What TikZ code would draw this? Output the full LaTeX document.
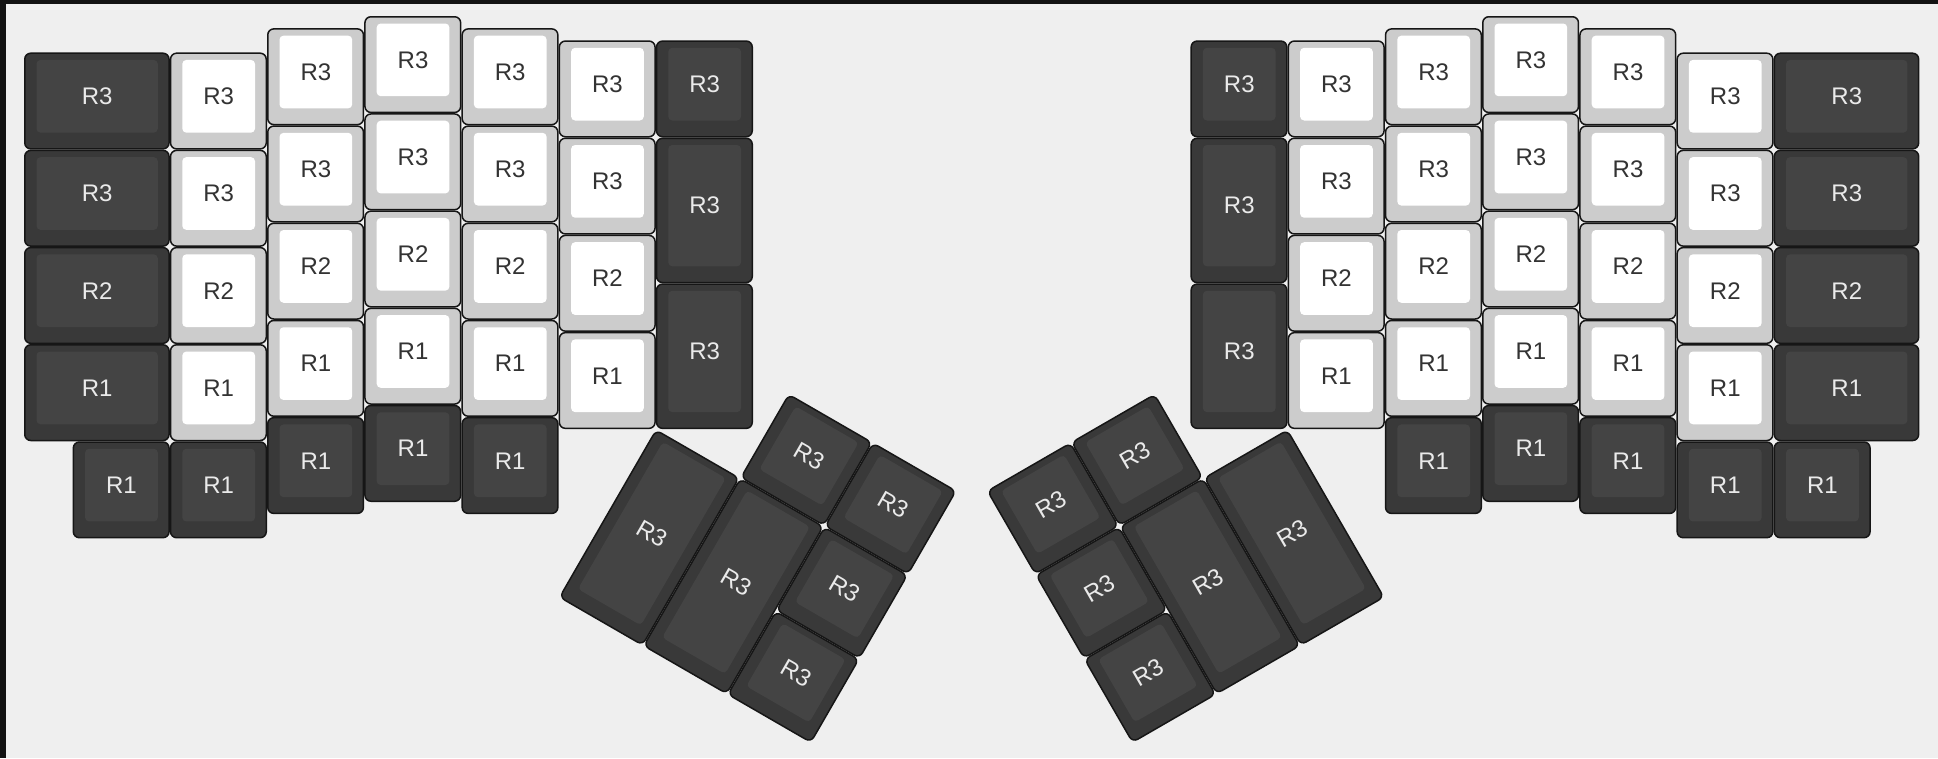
\documentclass[tikz,border=0pt]{standalone}
\usepackage{fontspec}
\setmainfont{Liberation Sans}
\definecolor{bgc}{HTML}{EFEFEF}
\definecolor{framec}{HTML}{121212}
\definecolor{dout}{HTML}{393939}
\definecolor{din}{HTML}{444444}
\definecolor{lout}{HTML}{CCCCCC}
\definecolor{lin}{HTML}{FFFFFF}
\definecolor{edgec}{HTML}{161616}
\definecolor{dtext}{HTML}{EAEAEA}
\definecolor{ltext}{HTML}{333333}
\def\U{97.2}
\tikzset{
  dout/.style={fill=dout,draw=edgec,line width=1.5pt,rounded corners=6pt},
  lout/.style={fill=lout,draw=edgec,line width=1.5pt,rounded corners=6pt},
  din/.style={fill=din,rounded corners=4pt},
  lin/.style={fill=lin,rounded corners=4pt},
  dtxt/.style={text=dtext,inner sep=0pt,transform shape,font=\fontsize{24}{24}\selectfont},
  ltxt/.style={text=ltext,inner sep=0pt,transform shape,font=\fontsize{24}{24}\selectfont},
}
% #1 x, #2 y, #3 w, #4 h, #5 label, #6 d/l, #7 name
\newcommand\kk[7]{%
  \begin{scope}[shift={(#1,#2)}]
    \pgfmathsetmacro\kw{#3*\U}\pgfmathsetmacro\kh{#4*\U}
    \draw[#6out] (0.75pt,-0.75pt) rectangle (\kw pt-0.75pt,-\kh pt+0.75pt);
    \fill[#6in] (12.5pt,-7.5pt) rectangle (\kw pt-12pt,-\kh pt+17pt);
    \node[#6txt] (#7) at (\kw pt/2+0.25pt,-\kh pt/2+4.75pt) {#5};
  \end{scope}}
\begin{document}
\begin{tikzpicture}
\useasboundingbox (0pt,0pt) rectangle (1938pt,-758pt);
\fill[framec] (0pt,0pt) rectangle (1938pt,-758pt);
\fill[bgc] (6pt,-4pt) rectangle (1938pt,-758pt);
\begin{scope}[shift={(24pt,-16pt)},x=97.2pt,y=-97.2pt]
% ---- left half
\kk{0}{0.375}{1.5}{1}{R3}{d}{La0}
\kk{0}{1.375}{1.5}{1}{R3}{d}{La1}
\kk{0}{2.375}{1.5}{1}{R2}{d}{La2}
\kk{0}{3.375}{1.5}{1}{R1}{d}{La3}
\kk{0.5}{4.375}{1}{1}{R1}{d}{La4}
\kk{1.5}{0.375}{1}{1}{R3}{l}{Lb0}
\kk{1.5}{1.375}{1}{1}{R3}{l}{Lb1}
\kk{1.5}{2.375}{1}{1}{R2}{l}{Lb2}
\kk{1.5}{3.375}{1}{1}{R1}{l}{Lb3}
\kk{1.5}{4.375}{1}{1}{R1}{d}{Lb4}
\kk{2.5}{0.125}{1}{1}{R3}{l}{Lc0}
\kk{2.5}{1.125}{1}{1}{R3}{l}{Lc1}
\kk{2.5}{2.125}{1}{1}{R2}{l}{Lc2}
\kk{2.5}{3.125}{1}{1}{R1}{l}{Lc3}
\kk{2.5}{4.125}{1}{1}{R1}{d}{Lc4}
\kk{3.5}{0}{1}{1}{R3}{l}{Ld0}
\kk{3.5}{1}{1}{1}{R3}{l}{Ld1}
\kk{3.5}{2}{1}{1}{R2}{l}{Ld2}
\kk{3.5}{3}{1}{1}{R1}{l}{Ld3}
\kk{3.5}{4}{1}{1}{R1}{d}{Ld4}
\kk{4.5}{0.125}{1}{1}{R3}{l}{Le0}
\kk{4.5}{1.125}{1}{1}{R3}{l}{Le1}
\kk{4.5}{2.125}{1}{1}{R2}{l}{Le2}
\kk{4.5}{3.125}{1}{1}{R1}{l}{Le3}
\kk{4.5}{4.125}{1}{1}{R1}{d}{Le4}
\kk{5.5}{0.25}{1}{1}{R3}{l}{Lf0}
\kk{5.5}{1.25}{1}{1}{R3}{l}{Lf1}
\kk{5.5}{2.25}{1}{1}{R2}{l}{Lf2}
\kk{5.5}{3.25}{1}{1}{R1}{l}{Lf3}
\kk{6.5}{0.25}{1}{1}{R3}{d}{Lg0}
\kk{6.5}{1.25}{1}{1.5}{R3}{d}{Lg1}
\kk{6.5}{2.75}{1}{1.5}{R3}{d}{Lg2}
% ---- right half
\kk{12}{0.25}{1}{1}{R3}{d}{Rg0}
\kk{12}{1.25}{1}{1.5}{R3}{d}{Rg1}
\kk{12}{2.75}{1}{1.5}{R3}{d}{Rg2}
\kk{13}{0.25}{1}{1}{R3}{l}{Rf0}
\kk{13}{1.25}{1}{1}{R3}{l}{Rf1}
\kk{13}{2.25}{1}{1}{R2}{l}{Rf2}
\kk{13}{3.25}{1}{1}{R1}{l}{Rf3}
\kk{14}{0.125}{1}{1}{R3}{l}{Re0}
\kk{14}{1.125}{1}{1}{R3}{l}{Re1}
\kk{14}{2.125}{1}{1}{R2}{l}{Re2}
\kk{14}{3.125}{1}{1}{R1}{l}{Re3}
\kk{14}{4.125}{1}{1}{R1}{d}{Re4}
\kk{15}{0}{1}{1}{R3}{l}{Rd0}
\kk{15}{1}{1}{1}{R3}{l}{Rd1}
\kk{15}{2}{1}{1}{R2}{l}{Rd2}
\kk{15}{3}{1}{1}{R1}{l}{Rd3}
\kk{15}{4}{1}{1}{R1}{d}{Rd4}
\kk{16}{0.125}{1}{1}{R3}{l}{Rc0}
\kk{16}{1.125}{1}{1}{R3}{l}{Rc1}
\kk{16}{2.125}{1}{1}{R2}{l}{Rc2}
\kk{16}{3.125}{1}{1}{R1}{l}{Rc3}
\kk{16}{4.125}{1}{1}{R1}{d}{Rc4}
\kk{17}{0.375}{1}{1}{R3}{l}{Rb0}
\kk{17}{1.375}{1}{1}{R3}{l}{Rb1}
\kk{17}{2.375}{1}{1}{R2}{l}{Rb2}
\kk{17}{3.375}{1}{1}{R1}{l}{Rb3}
\kk{17}{4.375}{1}{1}{R1}{d}{Rb4}
\kk{18}{0.375}{1.5}{1}{R3}{d}{Ra0}
\kk{18}{1.375}{1.5}{1}{R3}{d}{Ra1}
\kk{18}{2.375}{1.5}{1}{R2}{d}{Ra2}
\kk{18}{3.375}{1.5}{1}{R1}{d}{Ra3}
\kk{18}{4.375}{1}{1}{R1}{d}{Ra4}
% ---- left thumb cluster
\begin{scope}[rotate around={-30:(6.5,4.25)}]
\kk{7.5}{3.25}{1}{1}{R3}{d}{LT1}
\kk{8.5}{3.25}{1}{1}{R3}{d}{LT2}
\kk{6.5}{4.25}{1}{2}{R3}{d}{LT3}
\kk{7.5}{4.25}{1}{2}{R3}{d}{LT4}
\kk{8.5}{4.25}{1}{1}{R3}{d}{LT5}
\kk{8.5}{5.25}{1}{1}{R3}{d}{LT6}
\end{scope}
% ---- right thumb cluster
\begin{scope}[rotate around={30:(13,4.25)}]
\kk{10}{3.25}{1}{1}{R3}{d}{RT1}
\kk{11}{3.25}{1}{1}{R3}{d}{RT2}
\kk{10}{4.25}{1}{1}{R3}{d}{RT3}
\kk{11}{4.25}{1}{2}{R3}{d}{RT4}
\kk{12}{4.25}{1}{2}{R3}{d}{RT5}
\kk{10}{5.25}{1}{1}{R3}{d}{RT6}
\end{scope}
\end{scope}
\end{tikzpicture}
\end{document}
